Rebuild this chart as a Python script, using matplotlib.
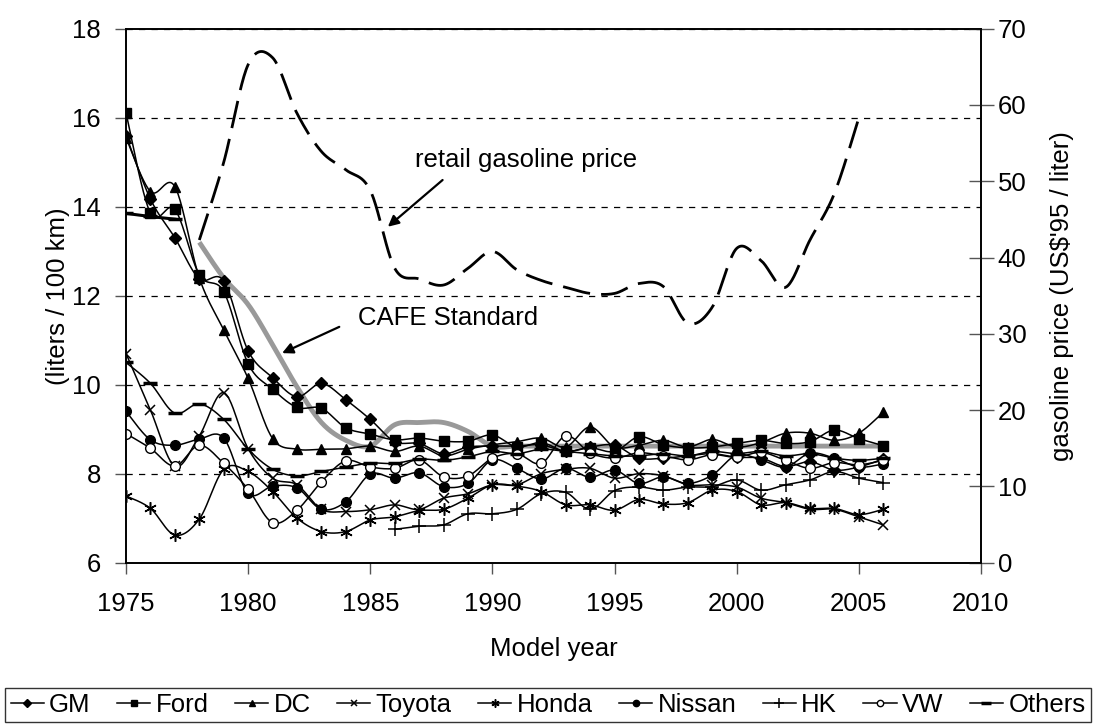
import numpy as np
import matplotlib
matplotlib.use("Agg")
import matplotlib.pyplot as plt
from matplotlib.lines import Line2D

plt.rcParams['font.family'] = ['Liberation Sans', 'DejaVu Sans']

years = list(range(1975, 2007))
gm = [15.6, 14.17, 13.3, 12.38, 12.33, 10.76, 10.16, 9.73, 10.03, 9.66, 9.22, 8.72, 8.68, 8.45, 8.6, 8.62,
      8.62, 8.65, 8.5, 8.6, 8.64, 8.35, 8.35, 8.4, 8.45, 8.37, 8.35, 8.16, 8.27, 8.08, 8.15, 8.33]
ford = [16.1, 13.85, 13.94, 12.47, 12.09, 10.47, 9.9, 9.49, 9.47, 9.03, 8.89, 8.76, 8.8, 8.73, 8.73, 8.87,
        8.6, 8.7, 8.5, 8.58, 8.5, 8.83, 8.65, 8.58, 8.6, 8.68, 8.75, 8.68, 8.72, 8.98, 8.79, 8.63]
dc = [15.55, 14.34, 14.45, 12.4, 11.23, 10.14, 8.79, 8.55, 8.55, 8.56, 8.62, 8.5, 8.62, 8.4, 8.55, 8.65,
      8.72, 8.8, 8.6, 9.05, 8.6, 8.64, 8.75, 8.6, 8.77, 8.6, 8.7, 8.91, 8.91, 8.75, 8.91, 9.38]
toyota = [10.7, 9.43, 8.17, 8.85, 9.82, 8.56, 7.9, 7.75, 7.2, 7.15, 7.19, 7.3, 7.2, 7.45, 7.55, 7.75,
          7.75, 8.0, 8.1, 8.12, 7.9, 8.0, 7.95, 7.75, 7.75, 7.7, 7.45, 7.35, 7.2, 7.2, 7.03, 6.85]
honda = [7.5, 7.22, 6.62, 6.98, 8.1, 8.05, 7.6, 7.0, 6.7, 6.7, 6.96, 7.03, 7.17, 7.2, 7.45, 7.75,
         7.72, 7.6, 7.3, 7.3, 7.18, 7.42, 7.32, 7.35, 7.63, 7.6, 7.3, 7.35, 7.22, 7.22, 7.08, 7.2]
nissan = [9.4, 8.76, 8.64, 8.78, 8.8, 7.56, 7.72, 7.68, 7.2, 7.37, 7.99, 7.9, 8.02, 7.71, 7.78, 8.31,
          8.12, 7.88, 8.12, 7.92, 8.08, 7.78, 7.93, 7.78, 7.97, 8.42, 8.31, 8.15, 8.46, 8.35, 8.15, 8.22]
hk_years = list(range(1986, 2007))
hk = [6.75, 6.82, 6.85, 7.1, 7.1, 7.2, 7.55, 7.58, 7.2, 7.62, 7.7, 7.63, 7.7, 7.71, 7.86, 7.63,
      7.75, 7.86, 8.05, 7.9, 7.8]
vw = [8.9, 8.57, 8.17, 8.64, 8.23, 7.65, 6.9, 7.18, 7.82, 8.29, 8.15, 8.12, 8.31, 7.93, 7.95, 8.35,
      8.45, 8.23, 8.85, 8.47, 8.35, 8.47, 8.4, 8.31, 8.43, 8.37, 8.48, 8.3, 8.12, 8.25, 8.2, 8.3]
others = [10.5, 10.03, 9.36, 9.57, 9.22, 8.55, 8.1, 7.95, 8.05, 8.15, 8.24, 8.23, 8.33, 8.3, 8.38, 8.5,
          8.45, 8.55, 8.5, 8.45, 8.4, 8.4, 8.45, 8.4, 8.5, 8.45, 8.5, 8.4, 8.45, 8.35, 8.3, 8.35]
early_years = [1975, 1976, 1977]
early_avg = [13.85, 13.78, 13.72]

cafe_years = list(range(1978, 2007))
cafe = [13.2, 12.4, 11.8, 10.9, 9.95, 9.15, 8.75, 8.62, 9.1, 9.15, 9.15, 8.95] + [8.62] * 17

gas_years = list(range(1978, 2006))
gas = [42.3, 52.5, 65.3, 66.2, 58.9, 53.9, 51.5, 48.8, 38.6, 37.2, 36.4, 38.6, 40.8, 38.4, 37.0, 36.1,
       35.3, 35.3, 36.6, 36.2, 31.4, 33.5, 41.2, 39.6, 36.1, 42.3, 48.4, 58.3]


def smooth(xs, ys, n=24):
    xs = np.asarray(xs, float)
    ys = np.asarray(ys, float)
    px = np.concatenate([[xs[0]], xs, [xs[-1]]])
    py = np.concatenate([[ys[0]], ys, [ys[-1]]])
    ox, oy = [], []
    t = np.linspace(0, 1, n)
    for i in range(1, len(px) - 2):
        p0 = np.array([px[i], py[i]])
        p3 = np.array([px[i + 1], py[i + 1]])
        p1 = p0 + (p3 - np.array([px[i - 1], py[i - 1]])) / 6.0
        p2 = p3 - (np.array([px[i + 2], py[i + 2]]) - p0) / 6.0
        b = ((1 - t) ** 3)[:, None] * p0 + (3 * (1 - t) ** 2 * t)[:, None] * p1 + \
            (3 * (1 - t) * t ** 2)[:, None] * p2 + (t ** 3)[:, None] * p3
        ox.extend(b[:, 0]); oy.extend(b[:, 1])
    return np.array(ox), np.array(oy)


fig = plt.figure(figsize=(10.96, 7.27), dpi=100)
ax = fig.add_axes([0.115, 0.226, 0.780, 0.7345])
ax2 = ax.twinx()

fs = 18.5
ax.set_xlim(1975, 2010)
ax.set_ylim(6, 18)
ax2.set_ylim(0, 70)
ax.set_xticks(range(1975, 2011, 5))
ax.set_yticks(range(6, 19, 2))
ax2.set_yticks(range(0, 71, 10))
ax.grid(axis='y', color='black', linestyle=(0, (5, 5)), linewidth=0.9)
ax.tick_params(axis='x', direction='out', length=8, width=1, labelsize=fs, pad=13, color='#555555')
ax.tick_params(axis='y', direction='out', length=8, width=1, labelsize=fs, pad=10, color='#555555')
ax2.tick_params(axis='y', direction='inout', length=18, width=1, labelsize=fs, pad=3, color='#555555')
for a in (ax, ax2):
    for s in a.spines.values():
        s.set_linewidth(1.2)

# CAFE standard
cx, cy = smooth(cafe_years, cafe)
ax.plot(cx, cy, color='#999999', lw=3.5, zorder=2, solid_capstyle='butt')

series = [
    ('GM', years, gm, dict(marker='D', ms=6)),
    ('Ford', years, ford, dict(marker='s', ms=7)),
    ('DC', years, dc, dict(marker='^', ms=7)),
    ('Toyota', years, toyota, dict(marker='x', ms=7, mew=1.1)),
    ('Honda', years, honda, dict(marker=(6, 2, 0), ms=9, mew=1.1)),
    ('Nissan', years, nissan, dict(marker='o', ms=7)),
    ('HK', hk_years, hk, dict(marker='+', ms=10, mew=1.1)),
    ('VW', years, vw, dict(marker='o', ms=7, mfc='white', mew=1.0)),
    ('Others', years, others, dict(marker='_', ms=10, mew=2.5)),
]
handles = []
for name, xs, ys, mk in series:
    sx, sy = smooth(xs, ys)
    ax.plot(sx, sy, color='black', lw=1.1, zorder=3)
    ax.plot(xs, ys, linestyle='none', color='black', zorder=4, **mk)
    hk_mk = dict(mk)
    hk_mk['ms'] = mk['ms'] * 0.65
    handles.append(Line2D([0], [0], color='black', lw=1.1, label=name, **hk_mk))

ex, ey = smooth(early_years, early_avg)
ax.plot(ex, ey, color='black', lw=2.2, zorder=3)
ax.plot(early_years, early_avg, linestyle='none', color='black', marker='_', ms=10, mew=2.5, zorder=4)

# gasoline price
gx, gy = smooth(gas_years, gas)
ax2.plot(gx, gy, color='black', lw=2.0, linestyle=(0, (10, 4)), zorder=3)

ax.set_xlabel('Model year', fontsize=fs)
ax.set_ylabel('(liters / 100 km)', fontsize=fs)
ax2.set_ylabel("gasoline price (US$'95 / liter)", fontsize=fs)
ax.xaxis.set_label_coords(0.5, -0.14)
ax.yaxis.set_label_coords(-0.066, 0.5)
ax2.yaxis.set_label_coords(1.081, 0.5)

ax.text(1991.37, 15.05, 'retail gasoline price', fontsize=fs, ha='center', va='center')
ax.annotate('', xy=(1985.72, 13.55), xytext=(1987.96, 14.6),
            arrowprops=dict(arrowstyle='-|>', color='black', lw=1.6, mutation_scale=16,
                            shrinkA=0, shrinkB=0))
ax.text(1988.18, 11.5, 'CAFE Standard', fontsize=fs, ha='center', va='center')
ax.annotate('', xy=(1981.39, 10.71), xytext=(1983.73, 11.3),
            arrowprops=dict(arrowstyle='-|>', color='black', lw=1.6, mutation_scale=16,
                            shrinkA=0, shrinkB=0))

leg = fig.legend(handles=handles, loc='lower left', bbox_to_anchor=(0.005, 0.007, 0.99, 0.05),
                 mode='expand', ncol=9, fontsize=fs, frameon=True, fancybox=False,
                 handlelength=1.3, handletextpad=0.2, columnspacing=0.4, borderpad=0.2,
                 borderaxespad=0)
leg.get_frame().set_edgecolor('black')
leg.get_frame().set_linewidth(1.0)

fig.savefig('out.png', dpi=100)
